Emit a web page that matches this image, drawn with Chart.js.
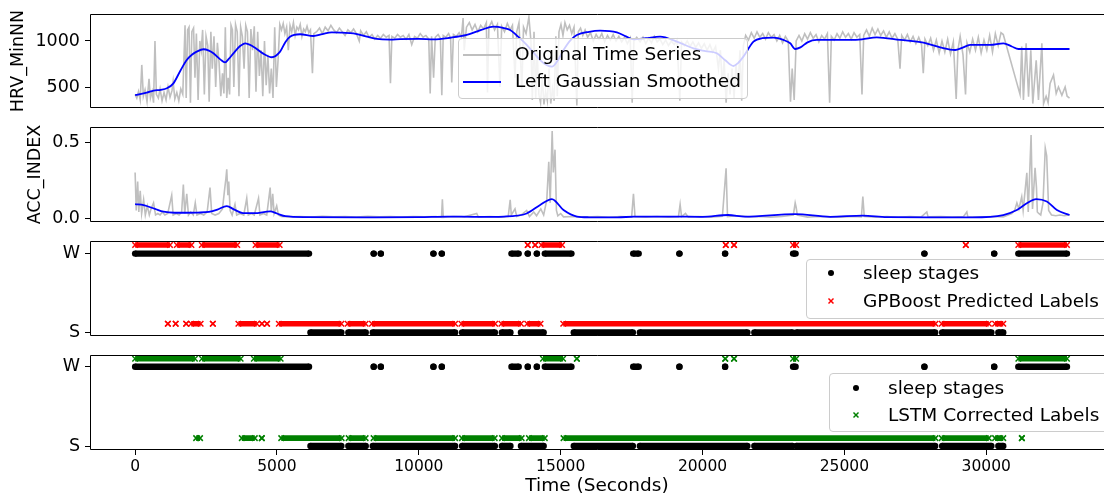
<!DOCTYPE html>
<html><head><meta charset="utf-8">
<script src="https://cdn.jsdelivr.net/npm/chart.js@4.4.0/dist/chart.umd.min.js"></script>
<style>
html,body{margin:0;padding:0;width:1104px;height:495px;overflow:hidden;background:#fff;}
body{position:relative;font-family:'DejaVu Sans',sans-serif;}
canvas{position:absolute;left:0;}
.lg{position:absolute;background:rgba(255,255,255,0.8);border:1px solid #cccccc;border-radius:4px;box-sizing:border-box;z-index:5;}
.lt{position:absolute;font-size:18.5px;line-height:22px;white-space:nowrap;color:#000;z-index:6;font-family:'DejaVu Sans',sans-serif;}
.lm{position:absolute;z-index:6;}
</style></head><body>
<canvas id="c1" width="1104" height="154" style="top:-16px"></canvas>
<canvas id="c2" width="1104" height="155" style="top:97px"></canvas>
<canvas id="c3" width="1104" height="155" style="top:211px"></canvas>
<canvas id="c4" width="1104" height="170" style="top:325px"></canvas>
<script>
// ---------------- data ----------------
const xTicks = [0, 5000, 10000, 15000, 20000, 25000, 30000];
const hrvTicks = [500, 1000];
const accTicks = [0.0, 0.5];
const stageTicks = [0, 1];
const stageNames = {0: 'S', 1: 'W'};

// HRV_MinNN original series [time s, value]
const hrvRaw = [
[0,420],[60,380],[120,450],[180,360],[235,740],[290,400],[350,470],[420,340],[490,590],[540,380],[600,450],[650,330],[700,1000],[750,420],[820,380],[880,480],[950,350],[1020,440],[1090,360],[1160,500],[1230,390],[1300,460],[1340,560],[1400,370],[1470,440],[1540,350],[1610,480],[1680,420],
[1760,1170],[1800,380],[1850,1120],[1900,1150],[1950,330],[2000,1100],[2060,1140],[2110,600],[2160,1080],[2220,360],[2280,1000],[2330,900],[2380,1120],[2440,420],[2500,1050],[2560,950],[2610,340],[2670,1100],[2720,700],[2780,1050],[2840,500],[2900,980],[2960,760],[3020,400],[3080,650],[3130,430],[3180,1150],[3230,380],[3280,600],[3330,420],[3380,1170],[3430,1120],[3480,500],[3540,1180],[3600,1100],[3660,400],[3720,1150],[3780,1050],[3840,700],[3900,1170],[3960,1100],[4020,380],[4080,1130],[4140,900],[4200,1160],[4260,450],[4320,1100],[4380,620],[4440,900],[4500,400],[4560,1000],[4620,520],[4680,850],[4740,430],[4800,700],[4860,380],[4920,1150],[4980,500],[5040,800],[5100,1180],
[5160,1120],[5220,1190],[5280,1080],[5340,1150],[5400,900],[5460,1170],[5520,1100],[5580,1200],[5640,1060],[5700,1150],[5760,1120],[5820,1180],[5880,1050],[5940,1130],[6000,1100],[6060,1160],[6120,1090],[6180,1120],[6250,650],[6300,1080],
[6400,1100],[6500,1140],[6600,1080],[6700,1150],[6800,1110],[6900,1170],[7000,1120],[7100,1090],[7200,1140],[7300,1100],[7400,1060],[7500,1120],[7600,1090],[7700,1130],[7800,1080],[7900,1000],[7950,1110],[8050,1060],[8150,1100],[8250,1040],[8350,1070],[8450,1020],[8550,1060],[8650,1030],[8750,1070],[8850,1040],[8950,1060],[9000,540],[9050,1050],[9150,1030],[9250,1070],[9350,1040],
[9450,1060],[9550,1020],[9650,1070],[9750,960],[9850,1050],[9950,1030],[10050,1080],[10150,1040],[10250,1060],[10350,1020],[10400,430],[10450,1050],[10520,600],[10580,1040],[10680,1070],[10760,1030],[10810,410],[10860,1060],[10950,1040],[11050,1080],[11120,1030],[11160,550],[11220,1070],[11320,1050],[11420,1090],[11500,1040],
[11560,1250],[11600,900],[11680,1150],[11780,1200],[11880,1120],[11980,1180],[12080,1100],[12180,1170],[12280,1130],[12380,1200],[12420,440],[12470,1150],[12570,1210],[12670,1120],[12770,1180],[12860,500],[12920,1160],[13020,1100],[13120,1190],[13220,1120],[13300,1170],[13390,600],[13450,1100],[13530,1200],[13630,470],[13690,1150],[13780,1080],[13880,1260],[13950,1000],[14000,360],[14060,1100],[14120,380],[14170,900],
[14230,420],[14290,330],[14350,600],[14410,310],[14470,450],[14530,350],[14590,700],[14650,320],[14710,480],[14770,350],[14830,1050],[14880,400],
[14940,1100],[15010,1180],[15080,1060],[15150,1200],[15230,1120],[15310,1170],[15390,1080],[15470,1150],[15570,300],[15620,1100],[15700,1140],[15780,1060],[15860,1120],
[15950,1040],[16050,1090],[16150,1000],[16250,1070],[16350,1020],[16450,1080],[16550,990],[16650,1060],[16750,1010],[16850,1070],[16950,1000],[17050,1050],[17150,990],[17250,1040],[17350,970],[17450,1030],[17520,330],[17580,1000],[17680,1040],
[17800,990],[17900,1040],[18000,970],[18100,1030],[18200,980],[18300,1050],[18400,990],[18500,1020],[18600,960],[18700,1010],[18800,950],[18900,1000],[19000,960],[19100,1010],[19200,350],[19260,990],[19360,950],[19460,1000],[19560,940],[19660,990],[19760,930],[19860,980],[19960,920],[20060,970],[20160,900],[20260,960],[20360,880],[20460,940],[20560,700],[20630,900],[20700,500],[20760,800],[20830,330],[20900,650],[20970,420],[21040,700],[21110,380],[21180,750],[21250,500],[21320,900],[21380,350],[21440,950],
[21520,1060],[21620,1010],[21720,1090],[21820,1030],[21920,1100],[22020,1040],[22120,1080],[22220,1020],[22320,1090],[22420,1040],[22520,1070],[22620,1000],[22720,1060],[22820,980],[22920,1050],[23020,1000],[23100,340],[23160,700],[23230,360],[23300,1000],
[23400,1060],[23500,1000],[23600,1080],[23700,1020],[23800,1090],[23900,1030],[24000,1070],[24100,990],[24200,1060],[24300,1020],[24400,1080],[24480,330],[24540,1050],[24640,1010],[24740,1080],[24840,1030],[24940,1100],[25040,1040],[25140,1080],[25240,1020],[25340,1090],[25440,1040],[25540,1070],[25620,420],[25680,1060],[25780,1120],[25880,1050],[25980,1140],[26080,1070],[26180,1130],[26280,1060],[26380,1110],[26480,1040],[26580,1100],[26680,1030],[26780,1080],[26880,1020],[26960,700],[27020,1060],[27120,1010],[27220,1070],[27320,990],[27420,1050],[27520,970],[27620,1040],[27720,960],[27780,650],[27840,1020],[27940,950],[28040,1030],[28140,900],[28240,1010],[28340,870],[28440,1000],[28540,880],[28640,1020],[28740,860],[28840,990],[28940,370],[29000,900],[29080,1050],[29180,850],[29270,420],[29320,980],[29420,880],[29520,1020],[29620,900],[29720,1040],[29820,870],[29920,1010],[30020,900],[30120,1060],[30220,880],[30320,1080],[30420,950],[30520,1090],[30600,1070],
[31190,420],[31250,940],[31310,360],[31405,975],[31490,395],[31570,900],[31640,320],[31760,790],[31840,360],[31960,975],[32020,320],[32110,400],[32180,330],[32250,540],[32370,630],[32465,430],[32545,500],[32665,410],[32780,500],[32850,400],[32935,380]
];

// HRV_MinNN left gaussian smoothed
const hrvSmooth = [
[0,413],[410,438],[650,462],[900,470],[1120,486],[1350,540],[1600,680],[1820,793],[2000,850],[2170,884],[2410,910],[2600,895],[2760,866],[3000,800],[3170,768],[3300,805],[3465,866],[3700,945],[3880,975],[4170,938],[4500,865],[4820,823],[5110,884],[5300,990],[5460,1047],[5815,1073],[6285,1054],[6600,1075],[6930,1094],[7300,1090],[7695,1083],[8170,1047],[8520,1022],[9000,1015],[9340,1020],[10000,1022],[10515,1018],[11100,1035],[11690,1065],[12200,1120],[12630,1156],[13000,1140],[13220,1120],[13450,1060],[13690,993],[14000,890],[14275,793],[14500,740],[14690,721],[14900,790],[15100,902],[15350,1010],[15570,1065],[16000,1100],[16390,1112],[16980,1094],[17300,1050],[17565,1018],[18000,1030],[18505,1047],[19095,993],[19680,920],[20100,890],[20505,866],[20800,790],[21090,728],[21250,760],[21440,830],[21795,993],[22100,1030],[22500,1036],[22850,1011],[23090,975],[23265,913],[23450,930],[23700,985],[24030,1011],[25200,1011],[25620,1018],[26140,1040],[26965,1011],[27785,982],[28375,931],[28905,902],[29150,925],[29430,957],[30140,957],[30605,975],[30900,940],[31135,913],[32935,913]
];

// ACC_INDEX original series
const accRaw = [
[0,0.30],[40,0.05],[90,0.24],[130,0.04],[180,0.18],[230,0.03],[300,0.12],[360,0.02],[430,0.08],[500,0.02],[560,0.06],[650,0.10],[720,0.02],[800,0.03],[880,0.02],[960,0.04],[1050,0.02],[1150,0.03],[1290,0.15],[1340,0.02],[1450,0.03],[1550,0.02],[1640,0.04],[1700,0.22],[1750,0.03],[1820,0.16],[1880,0.02],[1960,0.04],[2050,0.02],[2120,0.10],[2180,0.02],[2300,0.03],[2420,0.02],[2540,0.04],[2640,0.20],[2700,0.03],[2820,0.02],[2950,0.03],[3080,0.06],[3150,0.18],[3200,0.26],[3230,0.32],[3270,0.15],[3300,0.24],[3350,0.05],[3420,0.02],[3520,0.09],[3580,0.02],[3700,0.03],[3830,0.02],[3935,0.13],[3990,0.02],[4100,0.03],[4200,0.02],[4350,0.13],[4400,0.02],[4520,0.03],[4640,0.02],[4760,0.20],[4800,0.04],[4850,0.16],[4900,0.03],[4990,0.08],[5050,0.02],[5150,0.01],
[5400,0.008],[5800,0.01],[6200,0.006],[6600,0.012],[7000,0.008],[7400,0.01],[7800,0.006],[8200,0.012],[8600,0.008],[9000,0.01],[9400,0.006],[9800,0.01],[10200,0.008],[10600,0.01],[10800,0.005],[10830,0.123],[10860,0.005],[11200,0.01],[11600,0.008],[12040,0.03],[12100,0.006],[12500,0.01],[12900,0.006],[13150,0.01],[13220,0.12],[13260,0.02],[13390,0.06],[13450,0.01],[13600,0.02],[13800,0.05],[13900,0.01],[14050,0.04],[14150,0.015],[14300,0.06],[14400,0.02],[14510,0.12],[14580,0.37],[14630,0.1],[14700,0.572],[14740,0.3],[14800,0.45],[14850,0.05],[14900,0.015],[15000,0.03],[15100,0.008],[15500,0.01],[15900,0.006],[16300,0.01],[16700,0.005],[17100,0.01],[17500,0.006],[17565,0.16],[17620,0.008],[18000,0.006],[18400,0.01],[18800,0.005],[19150,0.008],[19210,0.09],[19260,0.01],[19400,0.03],[19500,0.006],[19900,0.01],[20300,0.006],[20700,0.012],[20830,0.327],[20880,0.01],[21200,0.015],[21600,0.008],[22000,0.01],[22400,0.006],[22800,0.01],[23200,0.02],[23265,0.10],[23300,0.07],[23340,0.02],[23700,0.006],[24100,0.01],[24500,0.008],[24900,0.006],[25300,0.01],[25600,0.008],[25650,0.142],[25700,0.01],[26100,0.006],[26500,0.01],[26900,0.005],[27300,0.01],[27700,0.006],[27905,0.04],[27950,0.008],[28400,0.01],[28800,0.006],[29200,0.01],[29315,0.04],[29350,0.008],[29800,0.006],[30200,0.01],[30600,0.008],[30900,0.03],[31000,0.05],[31080,0.10],[31150,0.06],[31250,0.14],[31300,0.05],[31430,0.297],[31480,0.04],[31580,0.546],[31630,0.06],[31720,0.33],[31770,0.20],[31800,0.04],[31850,0.03],[31920,0.02],[32000,0.10],[32080,0.46],[32130,0.41],[32200,0.05],[32300,0.02],[32450,0.015],[32600,0.02],[32750,0.015],[32935,0.02]
];

// ACC_INDEX smoothed
const accSmooth = [
[0,0.092],[300,0.085],[700,0.06],[1000,0.042],[1400,0.035],[1800,0.035],[2200,0.036],[2600,0.04],[2900,0.055],[3230,0.079],[3500,0.055],[3800,0.033],[4200,0.032],[4760,0.044],[5000,0.03],[5300,0.012],[6000,0.006],[8000,0.005],[10000,0.006],[11000,0.01],[12000,0.008],[13000,0.01],[13800,0.03],[14275,0.086],[14690,0.125],[15100,0.053],[15570,0.01],[16000,0.005],[17000,0.004],[17600,0.01],[19000,0.01],[20000,0.008],[20900,0.02],[21500,0.01],[23265,0.026],[24500,0.008],[25650,0.016],[26500,0.006],[28000,0.005],[29500,0.005],[30600,0.02],[31080,0.053],[31430,0.097],[31760,0.125],[32135,0.109],[32490,0.053],[32935,0.02]
];

// sleep stages: runs of consecutive epochs [start s, end s]
const stageWake = [[0,6130],[8410,8410],[8660,8660],[10515,10515],[10810,10810],[13265,13520],[13840,13840],[14160,14160],[14440,15380],[17555,17750],[19185,19185],[20795,20795],[23190,23280],[27820,27820],[30280,30280],[31130,32845]];
const stageSleep = [[6180,7270],[7515,8130],[8375,11280],[11525,12680],[12925,13230],[13600,14400],[15460,17545],[17790,21580],[21825,23170],[23310,28200],[28445,30180],[30425,30600]];
// GPBoost predicted labels
const gpbWake = [[0,1230],[1470,1985],[2350,3600],[4245,5095],[13840,13840],[14100,14100],[14320,15050],[20820,20820],[21110,21110],[23190,23300],[29280,29280],[31130,32845]];
const gpbSleep = [[1155,1155],[1430,1430],[1800,1800],[1975,2310],[2740,2740],[3640,4290],[4470,4470],[4650,4650],[5065,7270],[7490,8125],[8345,11280],[11500,12690],[12910,13600],[13820,14290],[15090,28210],[28430,30090],[30310,30600]];
// LSTM corrected labels
const lstmWake = [[0,2108],[2355,3720],[4185,5130],[14375,15085],[15570,15570],[20800,20800],[21110,21110],[23190,23300],[31130,32845]];
const lstmSleep = [[2150,2290],[3760,4220],[4465,4465],[5150,7280],[7525,8125],[8405,11280],[11520,12675],[12930,13625],[13880,14440],[15100,28210],[28430,30090],[30310,30600],[31255,31255]];

// ---------------- drawing ----------------
const FONT = "'DejaVu Sans', sans-serif";
const X_MIN = -1590, X_MAX = 34150;

function pairs(arr){ return arr.map(([x, y]) => ({x, y})); }
function runs(list, level){
  const out = [];
  list.forEach(([a, b]) => { out.push({x: a, y: level}, {x: b, y: level}, {x: b, y: null}); });
  return out;
}

const spines = {
  id: 'spines',
  afterDatasetsDraw(chart){
    const {ctx, chartArea: {left, top, right, bottom}} = chart;
    ctx.save();
    ctx.strokeStyle = '#000';
    ctx.lineWidth = 1;
    ctx.beginPath();
    ctx.moveTo(right + 2, top + 0.5);
    ctx.lineTo(left + 0.5, top + 0.5);
    ctx.lineTo(left + 0.5, bottom - 0.5);
    ctx.lineTo(right + 2, bottom - 0.5);
    ctx.stroke();
    ctx.restore();
  }
};

function options(o){
  const tickGrid = {display: true, drawOnChartArea: false, drawTicks: true, tickLength: 5, tickColor: '#000', tickWidth: 1};
  return {
    responsive: false, animation: false, events: [],
    layout: {autoPadding: false, padding: {top: 30, bottom: o.showX ? 0 : 30, left: 0, right: 0}},
    plugins: {legend: {display: false}, tooltip: {enabled: false}},
    scales: {
      x: {
        type: 'linear', min: X_MIN, max: X_MAX, display: !!o.showX,
        afterBuildTicks: s => { s.ticks = xTicks.map(v => ({value: v})); },
        afterFit: s => { if (o.showX) s.height = 45; },
        grid: tickGrid, border: {display: false},
        ticks: {font: {family: FONT, size: 15.5}, color: '#000', padding: 3, maxRotation: 0, autoSkip: false, callback: v => String(v)},
        title: {display: true, text: 'Time (Seconds)', color: '#000', font: {family: FONT, size: 18.5, lineHeight: 0.92}, padding: {top: 0, bottom: 0}}
      },
      y: {
        type: 'linear', min: o.yMin, max: o.yMax,
        afterFit: s => { s.width = 90; },
        afterBuildTicks: s => { s.ticks = o.yTicks.map(v => ({value: v})); },
        grid: tickGrid, border: {display: false},
        ticks: {font: {family: FONT, size: 17.5}, color: '#000', padding: 5, autoSkip: false, callback: o.yFmt},
        title: o.yTitle ? {display: true, text: o.yTitle, color: '#000', font: {family: FONT, size: 17.5}, padding: {top: o.yTitlePad, bottom: 0}} : {display: false}
      }
    }
  };
}

function make(id, datasets, o){
  return new Chart(document.getElementById(id), {type: 'line', data: {datasets}, options: options(o), plugins: [spines]});
}

function smoothLine(arr){ return {data: pairs(arr), borderColor: '#0000ff', borderWidth: 1.8, pointRadius: 0, cubicInterpolationMode: 'monotone', fill: false}; }
function rawLine(arr){ return {data: pairs(arr), borderColor: '#bfbfbf', borderWidth: 1.6, pointRadius: 0, tension: 0, fill: false}; }
function dotRun(list, level){
  return {data: runs(list, level), borderColor: '#000', borderWidth: 6.4, pointRadius: 3.2, pointStyle: 'circle',
    pointBackgroundColor: '#000', pointBorderColor: '#000', pointBorderWidth: 0, spanGaps: false, tension: 0, fill: false};
}
function crossRun(list, level, color){
  return {data: runs(list, level), borderColor: color, borderWidth: 5.6, pointRadius: 3.9, pointStyle: 'crossRot',
    pointBorderColor: color, pointBackgroundColor: color, pointBorderWidth: 1.5, spanGaps: false, tension: 0, fill: false};
}

const OFF_G = 0.11, OFF_L = 0.10;

make('c1', [smoothLine(hrvSmooth), rawLine(hrvRaw)],
  {yMin: 272, yMax: 1293, yTicks: hrvTicks, yFmt: v => String(v), yTitle: 'HRV_MinNN', yTitlePad: 8});
make('c2', [smoothLine(accSmooth), rawLine(accRaw)],
  {yMin: -0.026, yMax: 0.599, yTicks: accTicks, yFmt: v => v.toFixed(1), yTitle: 'ACC_INDEX', yTitlePad: 24.5});
make('c3', [crossRun(gpbWake, 1 + OFF_G, '#ff0000'), crossRun(gpbSleep, 0 + OFF_G, '#ff0000'), dotRun(stageWake, 1), dotRun(stageSleep, 0)],
  {yMin: -0.045, yMax: 1.16, yTicks: stageTicks, yFmt: v => stageNames[v]});
make('c4', [crossRun(lstmWake, 1 + OFF_L, '#008000'), crossRun(lstmSleep, 0 + OFF_L, '#008000'), dotRun(stageWake, 1), dotRun(stageSleep, 0)],
  {yMin: -0.05, yMax: 1.148, yTicks: stageTicks, yFmt: v => stageNames[v], showX: true});

// ---------------- legends (HTML overlays) ----------------
function svgLine(color){ return `<svg width="38" height="4"><line x1="0" y1="2" x2="38" y2="2" stroke="${color}" stroke-width="2"/></svg>`; }
function svgDot(){ return `<svg width="8" height="8"><circle cx="4" cy="4" r="3" fill="#000"/></svg>`; }
function svgCross(color){ return `<svg width="8" height="8"><line x1="1.5" y1="1.5" x2="6.5" y2="6.5" stroke="${color}" stroke-width="1.5"/><line x1="1.5" y1="6.5" x2="6.5" y2="1.5" stroke="${color}" stroke-width="1.5"/></svg>`; }

function legend(box, items){
  const b = document.createElement('div');
  b.className = 'lg';
  Object.assign(b.style, {left: box.l + 'px', top: box.t + 'px', width: (box.r - box.l) + 'px', height: (box.b - box.t) + 'px'});
  document.body.appendChild(b);
  items.forEach(it => {
    const m = document.createElement('div');
    m.className = 'lm';
    m.innerHTML = it.svg;
    m.style.left = (it.mx - it.mw / 2) + 'px';
    m.style.top = (it.y - it.mh / 2) + 'px';
    m.style.lineHeight = '0';
    document.body.appendChild(m);
    const t = document.createElement('div');
    t.className = 'lt';
    t.textContent = it.text;
    t.style.left = it.tx + 'px';
    t.style.top = (it.y - 11) + 'px';
    document.body.appendChild(t);
  });
}

legend({l: 458, t: 38, r: 748, b: 99}, [
  {svg: svgLine('#bfbfbf'), mx: 482, mw: 38, mh: 4, y: 54, text: 'Original Time Series', tx: 515},
  {svg: svgLine('#0000ff'), mx: 482, mw: 38, mh: 4, y: 81, text: 'Left Gaussian Smoothed', tx: 515}
]);
legend({l: 806, t: 259, r: 1112, b: 319}, [
  {svg: svgDot(), mx: 831, mw: 8, mh: 8, y: 273, text: 'sleep stages', tx: 863},
  {svg: svgCross('#ff0000'), mx: 831, mw: 8, mh: 8, y: 301, text: 'GPBoost Predicted Labels', tx: 863}
]);
legend({l: 829, t: 373, r: 1112, b: 432}, [
  {svg: svgDot(), mx: 856, mw: 8, mh: 8, y: 388, text: 'sleep stages', tx: 888},
  {svg: svgCross('#008000'), mx: 856, mw: 8, mh: 8, y: 415, text: 'LSTM Corrected Labels', tx: 888}
]);
</script>
</body></html>
